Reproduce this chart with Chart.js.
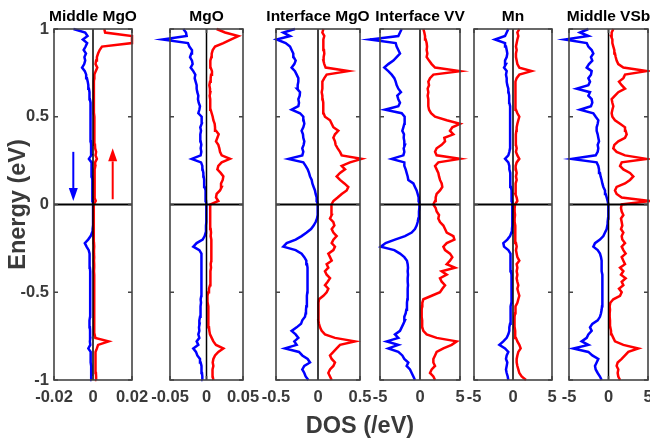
<!DOCTYPE html>
<html>
<head>
<meta charset="utf-8">
<title>Spin-resolved DOS</title>
<script src="https://cdn.jsdelivr.net/npm/chart.js@4.4.1/dist/chart.umd.min.js"></script>
<style>
  html, body { margin: 0; padding: 0; background: #fff; }
  #wrap { position: relative; width: 650px; height: 441px; overflow: hidden; }
  #wrap canvas { position: absolute; left: 0; top: 0; }
  #xlabel {
    position: absolute; top: 414px; left: 360px; transform: translateX(-50%);
    font: bold 23.5px "Liberation Sans", Arial, Helvetica, sans-serif;
    line-height: 23px; color: #3a3a3a; white-space: nowrap;
  }
</style>
</head>
<body>
<div id="wrap">
  <canvas id="c1" width="650" height="441"></canvas>
  <canvas id="c2" width="650" height="441"></canvas>
  <canvas id="c3" width="650" height="441"></canvas>
  <canvas id="c4" width="650" height="441"></canvas>
  <canvas id="c5" width="650" height="441"></canvas>
  <canvas id="c6" width="650" height="441"></canvas>
  <div id="xlabel">DOS (/eV)</div>
</div>
<script>
// energy grid (eV), shared by every panel
const energy = [
  -1, -0.98, -0.96, -0.94, -0.92, -0.9, -0.88, -0.86, -0.84, -0.82,
  -0.8, -0.78, -0.76, -0.74, -0.72, -0.7, -0.68, -0.66, -0.64, -0.62,
  -0.6, -0.58, -0.56, -0.54, -0.52, -0.5, -0.48, -0.46, -0.44, -0.42,
  -0.4, -0.38, -0.36, -0.34, -0.32, -0.3, -0.28, -0.26, -0.24, -0.22,
  -0.2, -0.18, -0.16, -0.14, -0.12, -0.1, -0.08, -0.06, -0.04, -0.02,
  0, 0.02, 0.04, 0.06, 0.08, 0.1, 0.12, 0.14, 0.16, 0.18,
  0.2, 0.22, 0.24, 0.26, 0.28, 0.3, 0.32, 0.34, 0.36, 0.38,
  0.4, 0.42, 0.44, 0.46, 0.48, 0.5, 0.52, 0.54, 0.56, 0.58,
  0.6, 0.62, 0.64, 0.66, 0.68, 0.7, 0.72, 0.74, 0.76, 0.78,
  0.8, 0.82, 0.84, 0.86, 0.88, 0.9, 0.92, 0.94, 0.96, 0.98, 1
];

const panelTitles = ["Middle MgO", "MgO", "Interface MgO", "Interface VV", "Mn", "Middle VSb"];
const xLimits = [0.02, 0.05, 0.5, 5, 5, 5];
const xTickValues = [[-0.02, 0, 0.02], [-0.05, 0, 0.05], [-0.5, 0, 0.5], [-5, 0, 5], [-5, 0, 5], [-5, 0, 5]];
const yTickValues = [-1, -0.5, 0, 0.5, 1];

// Middle MgO
const midMgoUp = [
  0.0018, 0.0016, 0.0015, 0.0013, 0.0012, 0.0012, 0.0013, 0.0014, 0.0013, 0.0020,
  0.0026, 0.0080, 0.0012, 0.0008, 0.0007, 0.0006, 0.0006, 0.0007, 0.0006, 0.0006,
  0.0006, 0.0007, 0.0006, 0.0006, 0.0007, 0.0006, 0.0006, 0.0007, 0.0006, 0.0006,
  0.0006, 0.0005, 0.0006, 0.0006, 0.0005, 0.0006, 0.0005, 0.0005, 0.0006, 0.0005,
  0.0005, 0.0004, 0.0005, 0.0004, 0.0004, 0.0004, 0.0004, 0.0003, 0.0003, 0.0004,
  0.0004, 0.0014, 0.0007, 0.0008, 0.0007, 0.0008, 0.0009, 0.0008, 0.0009, 0.0008,
  0.0010, 0.0012, 0.0011, 0.0020, 0.0013, 0.0016, 0.0011, 0.0010, 0.0009, 0.0008,
  0.0008, 0.0007, 0.0007, 0.0006, 0.0006, 0.0006, 0.0005, 0.0005, 0.0005, 0.0005,
  0.0004, 0.0004, 0.0004, 0.0004, 0.0005, 0.0005, 0.0006, 0.0007, 0.0014, 0.0022,
  0.0013, 0.0016, 0.0020, 0.0026, 0.0034, 0.0046, 0.0200, 0.0200, 0.0200, 0.0062, 0.0058
];
const midMgoDown = [
  -0.0007, -0.0008, -0.0009, -0.0010, -0.0010, -0.0012, -0.0011, -0.0013, -0.0012, -0.0024,
  -0.0014, -0.0016, -0.0014, -0.0015, -0.0015, -0.0016, -0.0020, -0.0016, -0.0015, -0.0014,
  -0.0015, -0.0014, -0.0015, -0.0014, -0.0014, -0.0015, -0.0014, -0.0015, -0.0014, -0.0015,
  -0.0014, -0.0015, -0.0016, -0.0019, -0.0018, -0.0017, -0.0016, -0.0022, -0.0033, -0.0042,
  -0.0025, -0.0012, -0.0005, -0.0002, 0.0000, 0.0001, 0.0001, 0.0000, 0.0000, 0.0000,
  0.0000, -0.0001, -0.0002, -0.0002, -0.0003, -0.0004, -0.0004, -0.0005, -0.0006, -0.0006,
  -0.0007, -0.0008, -0.0009, -0.0021, -0.0009, -0.0009, -0.0010, -0.0010, -0.0011, -0.0011,
  -0.0011, -0.0012, -0.0012, -0.0012, -0.0013, -0.0013, -0.0013, -0.0014, -0.0014, -0.0015,
  -0.0016, -0.0017, -0.0019, -0.0021, -0.0024, -0.0027, -0.0031, -0.0035, -0.0042, -0.0056,
  -0.0045, -0.0040, -0.0044, -0.0036, -0.0048, -0.0038, -0.0030, -0.0052, -0.0028, -0.0040, -0.0100
];

// MgO
const mgoUp = [
  0.0094, 0.0085, 0.0085, 0.0080, 0.0094, 0.0085, 0.0094, 0.0117, 0.0162, 0.0231,
  0.0130, 0.0094, 0.0071, 0.0048, 0.0039, 0.0034, 0.0030, 0.0030, 0.0025, 0.0025,
  0.0021, 0.0021, 0.0016, 0.0011, 0.0016, 0.0025, 0.0034, 0.0048, 0.0048, 0.0053,
  0.0057, 0.0057, 0.0062, 0.0057, 0.0066, 0.0071, 0.0066, 0.0071, 0.0062, 0.0066,
  0.0062, 0.0057, 0.0062, 0.0057, 0.0053, 0.0057, 0.0053, 0.0048, 0.0048, 0.0048,
  0.0048, 0.0162, 0.0130, 0.0139, 0.0185, 0.0208, 0.0199, 0.0222, 0.0231, 0.0194,
  0.0149, 0.0162, 0.0208, 0.0322, 0.0208, 0.0185, 0.0176, 0.0162, 0.0130, 0.0149,
  0.0167, 0.0130, 0.0117, 0.0112, 0.0094, 0.0085, 0.0071, 0.0057, 0.0048, 0.0057,
  0.0048, 0.0043, 0.0053, 0.0048, 0.0039, 0.0048, 0.0057, 0.0062, 0.0075, 0.0057,
  0.0048, 0.0057, 0.0066, 0.0071, 0.0085, 0.0117, 0.0231, 0.0331, 0.0436, 0.0254, 0.0139
];
const mgoDown = [
  -0.0053, -0.0057, -0.0062, -0.0071, -0.0066, -0.0080, -0.0089, -0.0126, -0.0144, -0.0181,
  -0.0112, -0.0135, -0.0098, -0.0112, -0.0098, -0.0103, -0.0094, -0.0098, -0.0089, -0.0085,
  -0.0080, -0.0080, -0.0075, -0.0080, -0.0071, -0.0071, -0.0066, -0.0066, -0.0071, -0.0071,
  -0.0066, -0.0071, -0.0075, -0.0075, -0.0071, -0.0066, -0.0062, -0.0098, -0.0181, -0.0135,
  -0.0053, -0.0025, -0.0011, -0.0007, -0.0007, -0.0002, -0.0002, -0.0002, -0.0002, -0.0002,
  -0.0002, -0.0007, -0.0011, -0.0011, -0.0016, -0.0025, -0.0030, -0.0034, -0.0039, -0.0043,
  -0.0053, -0.0057, -0.0075, -0.0203, -0.0080, -0.0071, -0.0080, -0.0071, -0.0080, -0.0089,
  -0.0080, -0.0075, -0.0085, -0.0066, -0.0071, -0.0062, -0.0112, -0.0098, -0.0089, -0.0107,
  -0.0117, -0.0112, -0.0126, -0.0135, -0.0135, -0.0149, -0.0162, -0.0153, -0.0181, -0.0217,
  -0.0190, -0.0199, -0.0226, -0.0208, -0.0199, -0.0235, -0.0254, -0.0601, -0.0272, -0.0281, -0.0318
];

// Interface MgO
const intMgoUp = [
  0.163, 0.143, 0.123, 0.143, 0.183, 0.202, 0.163, 0.143, 0.183, 0.222,
  0.262, 0.441, 0.202, 0.083, 0.044, 0.024, 0.012, 0.004, 0.004, 0.004,
  0.008, 0.004, 0.008, 0.012, 0.064, 0.103, 0.123, 0.083, 0.115, 0.143,
  0.103, 0.083, 0.123, 0.103, 0.163, 0.143, 0.123, 0.183, 0.202, 0.163,
  0.183, 0.222, 0.183, 0.163, 0.195, 0.183, 0.143, 0.163, 0.163, 0.155,
  0.163, 0.183, 0.234, 0.282, 0.341, 0.361, 0.314, 0.262, 0.222, 0.262,
  0.322, 0.282, 0.381, 0.520, 0.282, 0.262, 0.234, 0.210, 0.202, 0.183,
  0.202, 0.242, 0.183, 0.163, 0.143, 0.083, 0.067, 0.064, 0.060, 0.064,
  0.056, 0.052, 0.044, 0.052, 0.048, 0.056, 0.075, 0.103, 0.361, 0.091,
  0.075, 0.064, 0.067, 0.075, 0.071, 0.060, 0.067, 0.064, 0.075, 0.052, 0.064
];
const intMgoDown = [
  -0.115, -0.147, -0.163, -0.187, -0.163, -0.095, -0.123, -0.187, -0.226, -0.393,
  -0.254, -0.282, -0.234, -0.266, -0.314, -0.254, -0.202, -0.187, -0.155, -0.147,
  -0.143, -0.139, -0.135, -0.131, -0.131, -0.127, -0.127, -0.123, -0.127, -0.123,
  -0.123, -0.127, -0.123, -0.131, -0.139, -0.163, -0.195, -0.266, -0.413, -0.373,
  -0.266, -0.195, -0.135, -0.083, -0.052, -0.028, -0.012, -0.004, -0.004, -0.004,
  -0.004, -0.012, -0.016, -0.028, -0.036, -0.052, -0.067, -0.075, -0.095, -0.107,
  -0.123, -0.147, -0.175, -0.353, -0.187, -0.175, -0.187, -0.171, -0.163, -0.175,
  -0.179, -0.195, -0.175, -0.163, -0.171, -0.175, -0.214, -0.314, -0.234, -0.226,
  -0.234, -0.218, -0.214, -0.250, -0.242, -0.234, -0.234, -0.254, -0.274, -0.314,
  -0.282, -0.266, -0.290, -0.294, -0.314, -0.333, -0.385, -0.492, -0.333, -0.413, -0.274
];

// Interface VV
const intVVUp = [
  1.88, 1.67, 1.25, 1.46, 1.88, 1.67, 1.67, 1.88, 2.08, 2.92,
  3.96, 4.59, 2.08, 0.83, 0.42, 0.29, 0.29, 0.25, 0.21, 0.21,
  0.21, 0.25, 0.29, 0.42, 1.46, 2.50, 2.79, 3.13, 2.71, 2.50,
  3.34, 2.71, 4.38, 3.34, 3.75, 4.04, 3.75, 3.13, 2.92, 3.34,
  4.30, 4.17, 3.34, 3.13, 2.92, 2.50, 2.29, 2.38, 2.08, 1.96,
  1.67, 1.88, 1.96, 2.08, 2.50, 2.79, 2.71, 2.50, 2.38, 2.29,
  2.08, 1.88, 2.29, 5.00, 2.08, 1.88, 2.08, 2.71, 3.13, 3.04,
  4.17, 3.75, 4.04, 5.00, 3.34, 1.88, 1.38, 1.13, 1.04, 1.04,
  1.04, 0.96, 1.04, 0.96, 1.13, 1.04, 1.25, 1.67, 5.00, 1.88,
  1.46, 1.13, 0.83, 0.92, 0.83, 0.88, 0.83, 0.71, 0.63, 0.54, 0.42
];
const intVVDown = [
  -0.63, -0.83, -1.04, -1.25, -1.67, -1.46, -1.96, -2.21, -2.71, -3.96,
  -2.71, -4.17, -2.71, -3.13, -2.50, -2.29, -2.08, -1.88, -1.96, -1.79,
  -1.71, -1.63, -1.63, -1.58, -1.54, -1.54, -1.54, -1.50, -1.54, -1.54,
  -1.50, -1.54, -1.50, -1.54, -1.63, -1.96, -2.50, -3.21, -4.90, -4.30,
  -3.13, -1.88, -1.04, -0.63, -0.42, -0.29, -0.21, -0.13, -0.13, -0.08,
  -0.08, -0.13, -0.17, -0.29, -0.42, -0.63, -0.83, -1.46, -1.54, -1.67,
  -1.79, -1.96, -1.96, -3.54, -2.08, -1.96, -2.04, -1.88, -1.96, -2.04,
  -2.00, -2.21, -2.08, -1.96, -1.88, -1.96, -2.29, -4.38, -2.71, -2.50,
  -2.71, -2.84, -2.38, -2.71, -2.92, -3.04, -3.21, -3.54, -3.96, -4.46,
  -3.96, -3.33, -2.92, -2.50, -2.71, -2.92, -3.04, -6.25, -2.71, -2.50, -2.29
];

// Mn
const mnUp = [
  1.67, 1.11, 0.81, 0.68, 0.56, 0.47, 0.47, 0.56, 0.68, 0.98,
  0.81, 0.56, 0.38, 0.30, 0.26, 0.21, 0.21, 0.17, 0.21, 0.26,
  0.26, 0.38, 0.56, 0.68, 0.81, 0.68, 0.56, 0.68, 0.56, 0.47,
  0.56, 0.47, 0.56, 0.47, 0.81, 0.56, 0.47, 0.38, 0.47, 0.38,
  0.34, 0.30, 0.26, 0.30, 0.26, 0.21, 0.21, 0.26, 0.21, 0.21,
  0.26, 0.56, 0.47, 0.30, 0.34, 0.30, 0.38, 0.47, 0.38, 0.47,
  0.38, 0.34, 0.47, 0.81, 0.56, 0.38, 0.47, 0.38, 0.38, 0.34,
  0.38, 0.43, 0.47, 0.56, 0.68, 0.81, 0.56, 0.38, 0.34, 0.30,
  0.30, 0.26, 0.30, 0.30, 0.34, 0.38, 0.47, 0.81, 2.39, 0.81,
  0.56, 0.47, 0.38, 0.38, 0.47, 0.38, 0.47, 0.56, 0.68, 0.56, 0.81
];
const mnDown = [
  -0.60, -0.68, -0.81, -0.90, -0.81, -0.73, -0.90, -0.81, -0.60, -1.02,
  -1.75, -1.24, -0.81, -0.60, -0.47, -0.47, -0.38, -0.38, -0.34, -0.30,
  -0.26, -0.26, -0.21, -0.21, -0.17, -0.17, -0.17, -0.17, -0.21, -0.21,
  -0.21, -0.26, -0.26, -0.30, -0.30, -0.38, -0.38, -0.60, -1.15, -1.24,
  -0.73, -0.38, -0.21, -0.13, -0.09, -0.09, -0.09, -0.09, -0.09, -0.09,
  -0.09, -0.13, -0.17, -0.17, -0.21, -0.26, -0.30, -0.34, -0.38, -0.38,
  -0.47, -0.47, -0.60, -1.02, -0.60, -0.47, -0.38, -0.38, -0.34, -0.38,
  -0.38, -0.34, -0.38, -0.38, -0.38, -0.34, -0.38, -0.38, -0.38, -0.47,
  -0.47, -0.51, -0.56, -0.60, -0.73, -0.81, -0.81, -0.90, -0.81, -1.15,
  -0.90, -1.02, -0.81, -0.73, -0.81, -0.90, -1.02, -2.31, -1.02, -0.81, -0.60
];

// Middle VSb
const midVSbUp = [
  1.46, 1.24, 1.16, 1.24, 1.03, 1.16, 1.67, 2.09, 2.51, 3.78,
  1.88, 0.82, 0.61, 0.40, 0.32, 0.23, 0.19, 0.19, 0.15, 0.15,
  0.19, 0.15, 0.23, 0.61, 1.46, 1.67, 1.33, 1.88, 1.67, 2.17,
  1.58, 1.88, 1.46, 2.09, 1.88, 1.67, 2.17, 1.88, 1.67, 2.09,
  1.75, 1.67, 1.88, 1.58, 1.75, 1.67, 1.58, 1.88, 1.67, 1.58,
  1.67, 5.25, 1.67, 1.03, 0.82, 1.03, 2.09, 2.72, 3.14, 2.72,
  1.88, 1.46, 1.67, 4.83, 2.09, 1.03, 0.61, 0.74, 1.24, 2.09,
  2.30, 2.17, 2.09, 1.46, 0.82, 0.49, 0.40, 0.49, 0.61, 0.49,
  0.40, 0.82, 1.24, 2.09, 1.67, 1.33, 1.88, 2.09, 4.83, 1.88,
  1.24, 1.03, 0.91, 0.82, 0.74, 0.61, 0.49, 0.49, 0.32, 0.40, 0.61
];
const midVSbDown = [
  -0.87, -1.08, -1.37, -1.62, -1.71, -1.50, -1.29, -2.05, -2.55, -4.45,
  -2.55, -3.40, -2.76, -2.55, -2.13, -2.34, -2.05, -1.37, -1.08, -0.95,
  -0.87, -0.82, -0.78, -0.78, -0.74, -0.74, -0.74, -0.78, -0.78, -0.82,
  -0.82, -0.87, -0.87, -0.87, -0.87, -0.95, -1.08, -1.37, -1.92, -1.71,
  -1.08, -0.65, -0.44, -0.23, -0.15, -0.11, -0.06, -0.02, -0.02, -0.02,
  -0.02, -0.11, -0.23, -0.36, -0.44, -0.65, -0.78, -0.87, -1.00, -1.08,
  -1.20, -1.29, -1.50, -4.66, -1.62, -1.37, -1.29, -1.37, -1.20, -1.29,
  -1.37, -1.50, -1.50, -1.37, -1.29, -1.62, -1.92, -3.61, -2.22, -2.05,
  -2.13, -2.55, -2.34, -4.03, -2.55, -2.34, -2.55, -2.22, -2.13, -2.76,
  -2.47, -2.05, -2.22, -1.92, -2.13, -2.55, -2.76, -5.51, -2.55, -3.61, -2.55
];

// spin arrows in the first panel (DOS value, energy from -> to)
const spinArrowX = [-0.0101, 0.0101];
const spinArrowFrom = [0.30, 0.03];
const spinArrowTo = [0.02, 0.32];
const spinArrowColor = ["#0000ff", "#ff0000"];

const upSeries = [midMgoUp, mgoUp, intMgoUp, intVVUp, mnUp, midVSbUp];
const downSeries = [midMgoDown, mgoDown, intMgoDown, intVVDown, mnDown, midVSbDown];

// plot boxes in page pixels
const panelLeft = [54, 170, 276, 380, 474, 569];
const panelRight = [132, 243, 360, 460, 552, 648];
const PLOT_TOP = 29;

const FONT = '"Liberation Sans", Arial, Helvetica, sans-serif';
const AXIS_GREY = "#3a3a3a";
Chart.defaults.font.family = FONT;

function toPoints(values) {
    return values.map((v, i) => ({ x: v, y: energy[i] }));
}

function drawArrow(ctx, x, y1, y2, color) {
    const dir = y2 > y1 ? 1 : -1;
    const head = 13, half = 4.5;
    ctx.strokeStyle = color;
    ctx.fillStyle = color;
    ctx.lineWidth = 2;
    ctx.beginPath();
    ctx.moveTo(x, y1);
    ctx.lineTo(x, y2 - dir * head);
    ctx.stroke();
    ctx.beginPath();
    ctx.moveTo(x, y2);
    ctx.lineTo(x - half, y2 - dir * head);
    ctx.lineTo(x + half, y2 - dir * head);
    ctx.closePath();
    ctx.fill();
}

// zero lines, box, inward ticks, arrows and panel title, drawn over the curves
const framePlugin = {
    id: "frame",
    afterDatasetsDraw(chart, args, opts) {
        const { ctx, chartArea: a, scales: { x, y } } = chart;
        ctx.save();
        ctx.strokeStyle = "#000";
        ctx.lineWidth = 1.5;
        const x0 = x.getPixelForValue(0);
        ctx.beginPath();
        ctx.moveTo(x0, a.top);
        ctx.lineTo(x0, a.bottom);
        ctx.stroke();
        ctx.lineWidth = 2;
        const y0 = y.getPixelForValue(0);
        ctx.beginPath();
        ctx.moveTo(a.left, y0);
        ctx.lineTo(a.right, y0);
        ctx.stroke();

        ctx.strokeStyle = "#444";
        ctx.lineWidth = 1.6;
        ctx.strokeRect(a.left, a.top, a.right - a.left, a.bottom - a.top);
        const tl = 4;
        ctx.beginPath();
        yTickValues.forEach(v => {
            const py = y.getPixelForValue(v);
            ctx.moveTo(a.left, py); ctx.lineTo(a.left + tl, py);
            ctx.moveTo(a.right, py); ctx.lineTo(a.right - tl, py);
        });
        opts.xTicks.forEach(v => {
            const px = x.getPixelForValue(v);
            ctx.moveTo(px, a.bottom); ctx.lineTo(px, a.bottom - tl);
            ctx.moveTo(px, a.top); ctx.lineTo(px, a.top + tl);
        });
        ctx.stroke();

        if (opts.arrows) {
            spinArrowX.forEach((v, k) => {
                drawArrow(ctx, x.getPixelForValue(v), y.getPixelForValue(spinArrowFrom[k]),
                    y.getPixelForValue(spinArrowTo[k]), spinArrowColor[k]);
            });
        }

        // title centred over the plot box, not squeezed to its width
        ctx.fillStyle = "#000";
        ctx.font = "bold 15.5px " + FONT;
        ctx.textAlign = "center";
        ctx.textBaseline = "alphabetic";
        ctx.fillText(opts.title, (a.left + a.right) / 2, a.top - 8.5);
        ctx.restore();
    }
};

function makePanel(i) {
    const first = i === 0;
    const yW = first ? 54 : 0;
    return new Chart(document.getElementById("c" + (i + 1)), {
        type: "scatter",
        data: {
            datasets: [
                { data: toPoints(upSeries[i]), borderColor: "#ff0000", showLine: true, pointRadius: 0, borderWidth: 2.5, tension: 0, clip: false },
                { data: toPoints(downSeries[i]), borderColor: "#0000ff", showLine: true, pointRadius: 0, borderWidth: 2.5, tension: 0, clip: false }
            ]
        },
        options: {
            responsive: false,
            animation: false,
            devicePixelRatio: 1,
            events: [],
            layout: { padding: { left: panelLeft[i] - yW, right: 650 - panelRight[i], top: PLOT_TOP, bottom: 0 } },
            plugins: {
                legend: { display: false },
                tooltip: { enabled: false },
                title: { display: false },
                frame: { xTicks: xTickValues[i], arrows: first, title: panelTitles[i] }
            },
            scales: {
                x: {
                    type: "linear",
                    min: -xLimits[i],
                    max: xLimits[i],
                    afterBuildTicks: s => { s.ticks = xTickValues[i].map(v => ({ value: v })); },
                    afterFit: s => { s.height = 61; s.paddingLeft = 0; s.paddingRight = 0; },
                    grid: { display: false, drawTicks: false },
                    border: { display: false },
                    ticks: {
                        autoSkip: false, maxRotation: 0, padding: 7.5,
                        color: AXIS_GREY, font: { size: 16.5, weight: "bold" },
                        callback: v => String(v)
                    }
                },
                y: {
                    type: "linear",
                    min: -1,
                    max: 1,
                    afterBuildTicks: s => { s.ticks = yTickValues.map(v => ({ value: v })); },
                    afterFit: s => { s.width = yW; s.paddingTop = 0; s.paddingBottom = 0; },
                    grid: { display: false, drawTicks: false },
                    border: { display: false },
                    ticks: {
                        display: first, padding: 5,
                        color: AXIS_GREY, font: { size: 16.5, weight: "bold" },
                        callback: v => String(v)
                    },
                    title: {
                        display: first,
                        text: "Energy (eV)",
                        color: AXIS_GREY,
                        font: { size: 23.5, weight: "bold" },
                        padding: { top: 4.5, bottom: 0 }
                    }
                }
            }
        },
        plugins: [framePlugin]
    });
}

panelTitles.forEach((t, i) => makePanel(i));
</script>
</body>
</html>
